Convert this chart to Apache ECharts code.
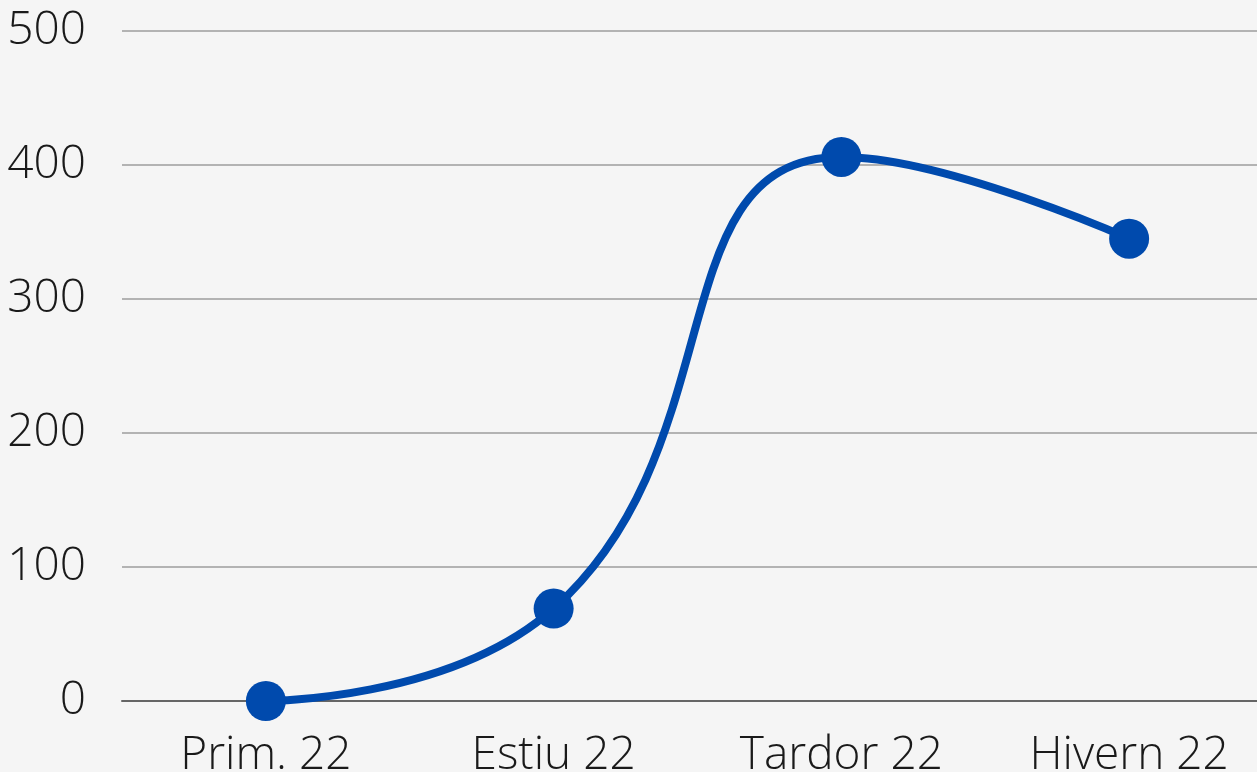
<!DOCTYPE html>
<html>
<head>
<meta charset="utf-8">
<script src="https://cdn.jsdelivr.net/npm/echarts@6/dist/echarts.min.js"></script>
<style>
  html, body { margin: 0; padding: 0; background: #f5f5f5; }
  #chart { width: 1257px; height: 772px; }
</style>
</head>
<body>
<div id="chart"></div>
<script>
  // seasons (Catalan)
  const categories = ['Prim. 22', 'Estiu 22', 'Tardor 22', 'Hivern 22']
  const values = [0, 69, 406, 345]
  const yTicks = [0, 100, 200, 300, 400, 500]

  const chart = echarts.init(document.getElementById('chart'))

  const labelFont = {
    fontFamily: 'Open Sans',
    fontWeight: 300,
    fontSize: 46,
    color: '#1a1a1a'
  }

  chart.setOption({
    backgroundColor: '#f5f5f5',
    animation: false,
    // plot runs a bit past the right edge, like the original crop
    grid: { left: 122, width: 1151, top: 31, bottom: 71, outerBoundsMode: 'none' },
    xAxis: {
      type: 'category',
      data: categories,
      axisLine: { show: true, lineStyle: { color: '#666', width: 2 } },
      axisTick: { show: false },
      axisLabel: { ...labelFont, margin: 32 }
    },
    yAxis: {
      type: 'value',
      min: yTicks[0],
      max: yTicks[yTicks.length - 1],
      interval: 100,
      axisLine: { show: false },
      axisTick: { show: false },
      axisLabel: { ...labelFont, margin: 36 },
      splitLine: { lineStyle: { color: '#b3b3b3', width: 2 } }
    },
    series: [
      {
        type: 'line',
        data: values,
        smooth: 0.5,
        symbol: 'circle',
        symbolSize: 40,
        lineStyle: { color: '#004aad', width: 8 },
        itemStyle: { color: '#004aad' }
      }
    ]
  })
</script>
</body>
</html>
